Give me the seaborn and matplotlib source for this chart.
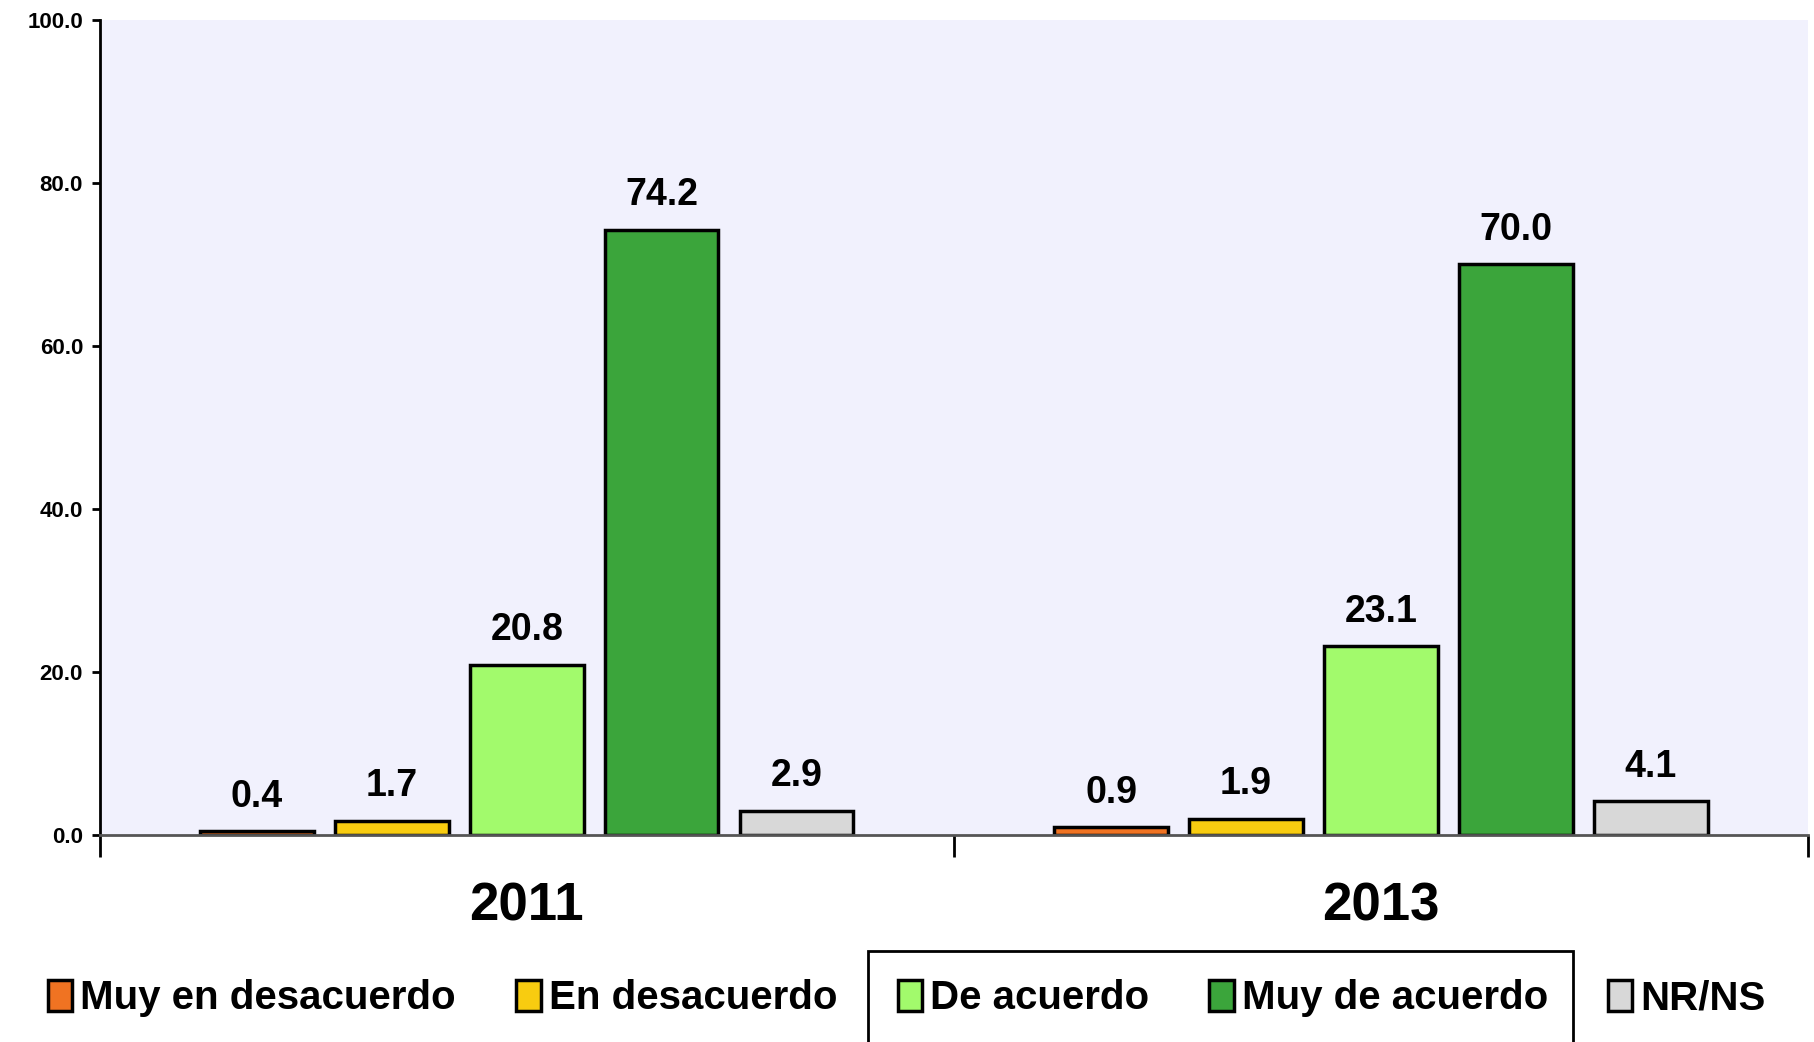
import matplotlib
matplotlib.use("Agg")
import matplotlib.pyplot as plt
import seaborn as sns
import pandas as pd

years = ['2011', '2013']
categories = ['Muy en desacuerdo', 'En desacuerdo', 'De acuerdo', 'Muy de acuerdo', 'NR/NS']
values_2011 = [0.4, 1.7, 20.8, 74.2, 2.9]
values_2013 = [0.9, 1.9, 23.1, 70.0, 4.1]
colors = ['#F07322', '#F8CC10', '#A2FA6C', '#3BA53B', '#D8D8D8']

df = pd.DataFrame({
    'year': [years[0]] * 5 + [years[1]] * 5,
    'cat': categories * 2,
    'pct': values_2011 + values_2013,
})

sns.set_style('white')
plt.rcParams['font.family'] = ['Liberation Sans', 'DejaVu Sans']
plt.rcParams['text.color'] = 'black'
plt.rcParams['xtick.color'] = 'black'
plt.rcParams['ytick.color'] = 'black'

fig = plt.figure(figsize=(18.14, 10.42), dpi=100)
ax = fig.add_axes([0.055, 0.199, 0.9417, 0.782])
ax.set_facecolor('#F1F1FD')

sns.barplot(data=df, x='year', y='pct', hue='cat', hue_order=categories,
            palette=colors, saturation=1, width=0.79, gap=0.16, edgecolor='black',
            linewidth=2.5, ax=ax)

for c in ax.containers:
    ax.bar_label(c, fmt='%.1f', padding=12, fontsize=27, fontweight='bold', color='black')

ax.set_xlim(-0.5, 1.5)
ax.set_ylim(0, 100)
ax.set_yticks([0, 20, 40, 60, 80, 100])
ax.set_yticklabels(['%.1f' % v for v in [0, 20, 40, 60, 80, 100]],
                   fontsize=16, fontweight='bold')
ax.tick_params(axis='y', direction='out', length=6, width=2, color='black', left=True, pad=6)

ax.set_xticks([-0.5, 0.5, 1.5])
ax.set_xticklabels(['', '', ''])
ax.tick_params(axis='x', which='major', direction='out', length=16, width=2, color='black', bottom=True)
ax.set_xticks([0, 1], minor=True)
ax.set_xticklabels(years, minor=True, fontsize=38, fontweight='bold')
ax.tick_params(axis='x', which='minor', length=0, pad=34)

ax.set_xlabel('')
ax.set_ylabel('')
for s in ['top', 'right']:
    ax.spines[s].set_visible(False)
ax.spines['left'].set_color('black')
ax.spines['left'].set_linewidth(2)
ax.spines['bottom'].set_color('#555555')
ax.spines['bottom'].set_linewidth(2)

ax.get_legend().remove()
handles, labels = ax.get_legend_handles_labels()
leg = fig.legend(handles, labels, loc='lower center', bbox_to_anchor=(0.5, -0.011), ncol=5,
                 frameon=False, handlelength=0.6, handleheight=0.8, handletextpad=0.2,
                 columnspacing=1.5, prop={'weight': 'bold', 'size': 29})

# box around the two middle legend entries, as in the original
fig.canvas.draw()
inv = fig.transFigure.inverted()
h2 = leg.legend_handles[2].get_window_extent()
t3 = leg.get_texts()[3].get_window_extent()
x0 = inv.transform((h2.x0 - 30, 0))[0]
x1 = inv.transform((t3.x1 + 25, 0))[0]
fig.add_artist(plt.Rectangle((x0, -0.01), x1 - x0, 0.0875 + 0.01,
                             transform=fig.transFigure, fill=False, edgecolor='black', linewidth=2))

fig.savefig('out.png', dpi=100)
